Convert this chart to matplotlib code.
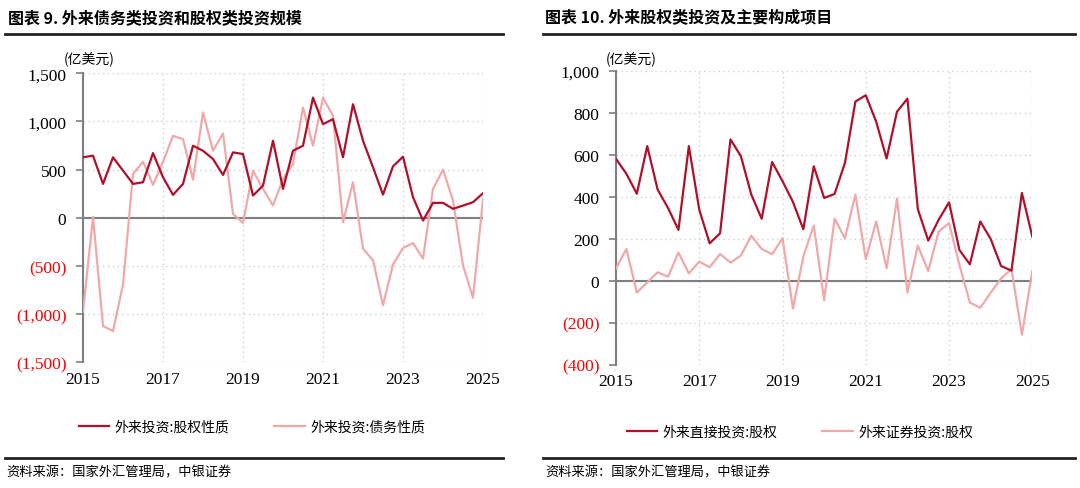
import matplotlib
matplotlib.use("Agg")
import matplotlib.pyplot as plt
import numpy as np
from matplotlib.lines import Line2D
from matplotlib.ticker import FuncFormatter

plt.rcParams['font.family'] = ['Noto Sans CJK SC', 'DejaVu Sans']

# quarterly, 2015Q1 .. 2025Q1 (亿美元)
equity_total = [628, 645, 352, 628, 490, 352, 369, 672, 421, 238,
                352, 748, 696, 610, 445, 679, 662, 231, 334, 800,
                300, 696, 748, 1248, 972, 1024, 628, 1179, 800, 524,
                241, 534, 634, 214, -28, 155, 155, 93, 127, 162, 255]
debt_total = [-975, 10, -1124, -1176, -693, 455, 582, 341, 580, 851,
              817, 396, 1093, 696, 876, 41, -52, 489, 300, 127,
              403, 558, 1145, 748, 1248, 1058, -45, 369, -320, -441,
              -907, -486, -314, -262, -424, 300, 500, 179, -493, -831, 196]

fdi_equity = [580, 509, 414, 641, 434, 346, 242, 641, 338, 178,
              226, 673, 593, 410, 295, 565, 474, 375, 245, 545,
              394, 413, 561, 853, 883, 757, 582, 805, 867, 341,
              191, 290, 373, 146, 78, 282, 199, 70, 48, 418, 210]
portfolio_equity = [59, 151, -57, -8, 40, 19, 134, 35, 91, 64,
                    127, 86, 120, 214, 151, 126, 202, -133, 115, 263,
                    -93, 295, 202, 410, 102, 282, 59, 391, -56, 167,
                    46, 234, 274, 75, -104, -129, -57, 11, 55, -257, 46]

year_labels = ['2015', '2017', '2019', '2021', '2023', '2025']

DARK = '#B0102A'
LIGHT = '#F0A9A9'
GRAY = '#7F7F7F'
W, H = 1080, 489


def fmt(v, pos):
    if v < 0:
        return '({:,.0f})'.format(-v)
    return '{:,.0f}'.format(v)


def make_axes(fig, x0, x1, ytop, ybot, ylim, ystep, s1, s2, names, unit_x, leg_x, leg_y):
    ax = fig.add_axes([x0 / W, 1 - ybot / H, (x1 - x0) / W, (ybot - ytop) / H])
    x = np.arange(len(s1))
    l2, = ax.plot(x, s2, color=LIGHT, lw=1.6, label=names[1], zorder=3)
    l1, = ax.plot(x, s1, color=DARK, lw=1.6, label=names[0], zorder=4)
    ax.axhline(0, color=GRAY, lw=1.5, zorder=2)
    ax.set_xlim(0, len(s1) - 1)
    ax.set_ylim(*ylim)
    ax.set_yticks(np.arange(ylim[0], ylim[1] + 1, ystep))
    ax.yaxis.set_major_formatter(FuncFormatter(fmt))
    ax.set_xticks(np.arange(0, len(s1), 8))
    ax.set_xticklabels(year_labels)
    for s in ['top', 'right', 'bottom']:
        ax.spines[s].set_visible(False)
    ax.spines['left'].set_color(GRAY)
    ax.spines['left'].set_linewidth(1.5)
    ax.grid(True, color='#D0D0D0', ls=(0, (1, 2.5)), lw=1)
    ax.tick_params(axis='y', length=5, color=GRAY, width=1.2, pad=7)
    ax.tick_params(axis='x', length=0, pad=6)
    for lab in ax.get_yticklabels() + ax.get_xticklabels():
        lab.set_family('Liberation Serif')
        lab.set_fontsize(12.5)
    for lab, v in zip(ax.get_yticklabels(), ax.get_yticks()):
        if v < 0:
            lab.set_color('#FF0000')
    fig.text(unit_x / W, 1 - 60 / H, '(亿美元)', fontsize=10, ha='left', va='center')
    fig.legend(handles=[l1, l2], loc='center',
               bbox_to_anchor=(leg_x / W, 1 - leg_y / H), ncol=2, frameon=False,
               fontsize=10, handlelength=2.2, handletextpad=0.4, columnspacing=3.2)
    return ax


fig = plt.figure(figsize=(10.8, 4.89), dpi=100)

# left panel
fig.text(8 / W, 1 - 18 / H, '图表 9. 外来债务类投资和股权类投资规模',
         fontsize=11.5, fontweight='bold', ha='left', va='center')
fig.add_artist(Line2D([5 / W, 503 / W], [1 - 35 / H] * 2, color='#222222', lw=2))
make_axes(fig, 83, 483, 74.3, 363.3, (-1500, 1500), 500, equity_total, debt_total,
          ['外来投资:股权性质', '外来投资:债务性质'], 64, 252, 428)
fig.add_artist(Line2D([5 / W, 503 / W], [1 - 459 / H] * 2, color='#222222', lw=2))
fig.text(6 / W, 1 - 473 / H, '资料来源：国家外汇管理局，中银证券',
         fontsize=9.5, style='italic', ha='left', va='center')

# right panel
fig.text(545 / W, 1 - 18 / H, '图表 10. 外来股权类投资及主要构成项目',
         fontsize=11.5, fontweight='bold', ha='left', va='center')
fig.add_artist(Line2D([543 / W, 1075 / W], [1 - 35 / H] * 2, color='#222222', lw=2))
make_axes(fig, 616, 1032.3, 71.7, 365.7, (-400, 1000), 200, fdi_equity, portfolio_equity,
          ['外来直接投资:股权', '外来证券投资:股权'], 606, 800, 433)
fig.add_artist(Line2D([543 / W, 1075 / W], [1 - 459 / H] * 2, color='#222222', lw=2))
fig.text(545 / W, 1 - 473 / H, '资料来源：国家外汇管理局，中银证券',
         fontsize=9.5, style='italic', ha='left', va='center')

fig.savefig('out.png', dpi=100)
